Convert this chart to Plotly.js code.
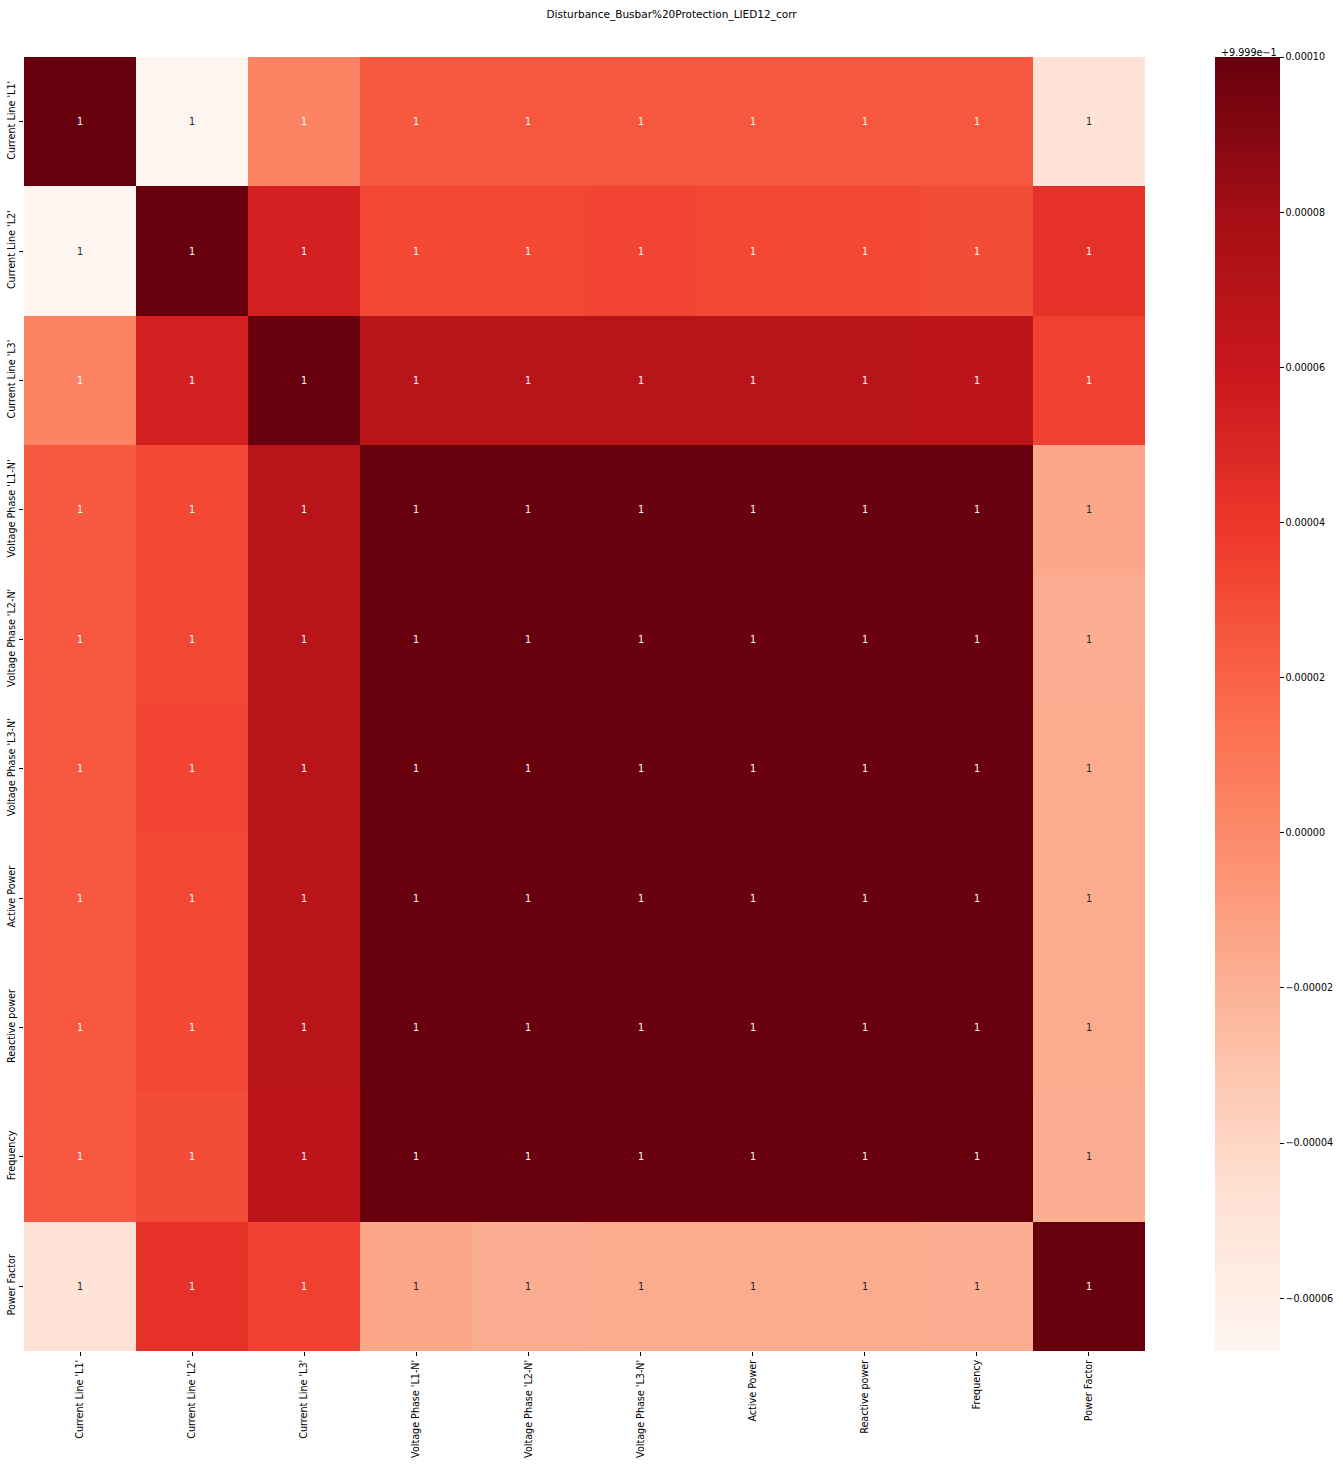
<!DOCTYPE html>
<html>
<head>
<meta charset="utf-8">
<script src="https://cdn.plot.ly/plotly-3.0.1.min.js"></script>
<style>html,body{margin:0;padding:0;background:#fff;}</style>
</head>
<body>
<div id="chart" style="width:1343px;height:1472px;"></div>
<script>
// Variable labels (rows and columns)
const labels = ["Current Line 'L1'", "Current Line 'L2'", "Current Line 'L3'",
  "Voltage Phase 'L1-N'", "Voltage Phase 'L2-N'", "Voltage Phase 'L3-N'",
  "Active Power", "Reactive power", "Frequency", "Power Factor"];

// Correlation rows
const rowCurrentL1   = [1.0,       0.9998332, 0.9999033, 0.9999240, 0.9999249, 0.9999249, 0.9999249, 0.9999249, 0.9999249, 0.9998515];
const rowCurrentL2   = [0.9998332, 1.0,       0.9999533, 0.9999316, 0.9999316, 0.9999333, 0.9999316, 0.9999316, 0.9999299, 0.9999433];
const rowCurrentL3   = [0.9999033, 0.9999533, 1.0,       0.9999683, 0.9999683, 0.9999683, 0.9999683, 0.9999683, 0.9999666, 0.9999349];
const rowVoltageL1N  = [0.9999240, 0.9999316, 0.9999683, 1.0,       0.9999998, 0.9999998, 0.9999998, 0.9999998, 0.9999997, 0.9998849];
const rowVoltageL2N  = [0.9999249, 0.9999316, 0.9999683, 0.9999998, 1.0,       0.9999998, 0.9999998, 0.9999998, 0.9999997, 0.9998816];
const rowVoltageL3N  = [0.9999249, 0.9999333, 0.9999683, 0.9999998, 0.9999998, 1.0,       0.9999998, 0.9999998, 0.9999997, 0.9998832];
const rowActivePower = [0.9999249, 0.9999316, 0.9999683, 0.9999998, 0.9999998, 0.9999998, 1.0,       0.9999998, 0.9999997, 0.9998832];
const rowReactive    = [0.9999249, 0.9999316, 0.9999683, 0.9999998, 0.9999998, 0.9999998, 0.9999998, 1.0,       0.9999997, 0.9998832];
const rowFrequency   = [0.9999249, 0.9999299, 0.9999666, 0.9999997, 0.9999997, 0.9999997, 0.9999997, 0.9999997, 1.0,       0.9998816];
const rowPowerFactor = [0.9998515, 0.9999433, 0.9999349, 0.9998849, 0.9998816, 0.9998832, 0.9998832, 0.9998832, 0.9998816, 1.0];

// Colour bar range and ticks (offset +9.999e-1)
const zMin = 0.9998332;
const zMax = 1.0;
const cbTickVals = [0.99984, 0.99986, 0.99988, 0.99990, 0.99992, 0.99994, 0.99996, 0.99998, 1.00000];
const cbTickText = ["\u22120.00006", "\u22120.00004", "\u22120.00002", "0.00000", "0.00002", "0.00004", "0.00006", "0.00008", "0.00010"];

const z = [rowCurrentL1, rowCurrentL2, rowCurrentL3, rowVoltageL1N, rowVoltageL2N,
           rowVoltageL3N, rowActivePower, rowReactive, rowFrequency, rowPowerFactor];

const reds = [[0, '#fff5f0'], [0.125, '#fee0d2'], [0.25, '#fcbba1'], [0.375, '#fc9272'],
              [0.5, '#fb6a4a'], [0.625, '#ef3b2c'], [0.75, '#cb181d'], [0.875, '#a50f15'], [1, '#67000d']];

const font = "DejaVu Sans, sans-serif";

const trace = {
  type: 'heatmap',
  x: labels,
  y: labels,
  z: z,
  zmin: zMin,
  zmax: zMax,
  colorscale: reds,
  xgap: 0, ygap: 0,
  hoverinfo: 'x+y+z',
  colorbar: {
    x: (1215 - 24) / 1121,
    xanchor: 'left',
    xpad: 0, ypad: 0,
    y: 0.5, yanchor: 'middle',
    len: 1, lenmode: 'fraction',
    thickness: 65,
    outlinewidth: 0,
    tickmode: 'array',
    tickvals: cbTickVals,
    ticktext: cbTickText,
    ticks: 'outside', ticklen: 4, tickwidth: 1, tickcolor: '#000',
    tickfont: {family: font, size: 9.6, color: '#000'}
  }
};

// Cell labels: value rounded, coloured for contrast with the cell
const annotations = [];
z.forEach((row, i) => {
  row.forEach((v, j) => {
    const t = (v - zMin) / (zMax - zMin);
    annotations.push({
      x: labels[j], y: labels[i], xref: 'x', yref: 'y',
      text: v.toFixed(0), showarrow: false,
      font: {family: font, size: 9.6, color: t < 0.36 ? '#262626' : '#ffffff'}
    });
  });
});
annotations.push({
  text: '+9.999e\u22121',
  xref: 'paper', yref: 'paper',
  x: (1279 - 24) / 1121, xanchor: 'right',
  y: 1, yanchor: 'bottom', yshift: -3,
  showarrow: false,
  font: {family: font, size: 9.6, color: '#000'}
});

const layout = {
  width: 1343,
  height: 1472,
  margin: {l: 24, r: 198, t: 57, b: 121, autoexpand: false},
  paper_bgcolor: '#fff',
  plot_bgcolor: '#fff',
  font: {family: font, color: '#000'},
  title: {
    text: 'Disturbance_Busbar%20Protection_LIED12_corr',
    x: 0.5, xref: 'container', xanchor: 'center',
    y: 1 - 14 / 1472, yref: 'container', yanchor: 'middle',
    font: {family: font, size: 10.5, color: '#000'}
  },
  xaxis: {
    type: 'category',
    tickangle: -90,
    ticks: 'outside', ticklen: 4, tickcolor: '#000',
    tickfont: {family: font, size: 9.6, color: '#000'},
    showgrid: false, zeroline: false, showline: false, automargin: false
  },
  yaxis: {
    type: 'category',
    autorange: 'reversed',
    tickangle: -90,
    ticks: 'outside', ticklen: 4, tickcolor: '#000',
    tickfont: {family: font, size: 9.6, color: '#000'},
    showgrid: false, zeroline: false, showline: false, automargin: false
  },
  annotations: annotations
};

Plotly.newPlot('chart', [trace], layout, {displayModeBar: false, responsive: false});
</script>
</body>
</html>
